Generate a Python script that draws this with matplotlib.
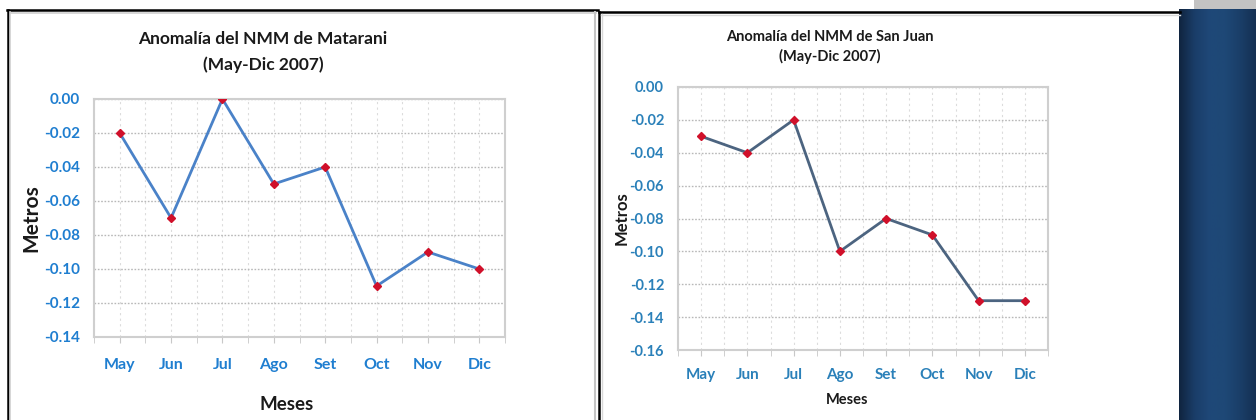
import numpy as np
import matplotlib
matplotlib.use("Agg")
import matplotlib.pyplot as plt
from matplotlib.patches import Rectangle
from matplotlib.lines import Line2D
from matplotlib.colors import LinearSegmentedColormap

# ---- data ----
meses = ["May", "Jun", "Jul", "Ago", "Set", "Oct", "Nov", "Dic"]
matarani = [-0.02, -0.07, 0.00, -0.05, -0.04, -0.11, -0.09, -0.10]
san_juan = [-0.03, -0.04, -0.02, -0.10, -0.08, -0.09, -0.13, -0.13]
yticks_matarani = [0.00, -0.02, -0.04, -0.06, -0.08, -0.10, -0.12, -0.14]
yticks_san_juan = [0.00, -0.02, -0.04, -0.06, -0.08, -0.10, -0.12, -0.14, -0.16]

W, H = 1256, 420
fig = plt.figure(figsize=(W / 100, H / 100), dpi=100)
fig.patch.set_facecolor("white")

FONT = ["Lato", "DejaVu Sans"]


def fx(px):
    return px / W


def fy(py):
    return 1 - py / H


def panel(rect, values, yticks, ymin, title, line_color, tick_color,
          title_size, tick_size, ylab_size, xlab_size, lw, ylab_x, xlab_x,
          xlab_y, title_y, title_x, tick_weight, xpad, title_ls, ms):
    ax = fig.add_axes(rect)
    x = np.arange(len(meses))
    ax.plot(x, values, color=line_color, lw=lw, zorder=3,
            solid_joinstyle="round")
    ax.plot(x, values, ls="none", marker="D", ms=ms, color="#d0102a",
            mec="#d0102a", zorder=4)
    ax.set_xlim(-0.5, len(meses) - 0.5)
    ax.set_ylim(ymin, 0.0)
    ax.set_yticks(yticks)
    ax.set_yticklabels([f"{v:.2f}" if v != 0 else "0.00" for v in yticks],
                       color=tick_color, fontsize=tick_size,
                       fontweight=tick_weight, family=FONT)
    ax.set_xticks(x)
    ax.set_xticklabels(meses, color=tick_color, fontsize=tick_size + 0.5,
                       fontweight=tick_weight, family=FONT)
    ax.set_xticks(np.arange(-0.5, len(meses), 1.0), minor=True)
    ax.tick_params(axis="y", length=0, pad=10)
    ax.tick_params(axis="x", which="major", length=4, color="#c8c8c8",
                   pad=xpad, direction="out")
    ax.tick_params(axis="x", which="minor", length=4, color="#c8c8c8",
                   direction="out")
    ax.grid(axis="y", color="#b8b8b8", ls=(0, (1.2, 1.2)), lw=1.0)
    ax.grid(axis="x", which="both", color="#dcdcdc", ls=(0, (2, 3)), lw=0.8)
    for s in ax.spines.values():
        s.set_color("#cfcfcf")
        s.set_linewidth(1.5)
    ax.set_axisbelow(True)
    fig.text(fx(title_x), fy(title_y), title, ha="center", va="center",
             fontsize=title_size, fontweight="bold", family=FONT,
             color="#1a1a1a", linespacing=title_ls)
    fig.text(fx(ylab_x), (rect[1] + rect[3] / 2), "Metros", rotation=90,
             ha="center", va="center", fontsize=ylab_size, fontweight="bold",
             family=FONT, color="#1a1a1a")
    fig.text(fx(xlab_x), fy(xlab_y), "Meses", ha="center",
             va="center", fontsize=xlab_size, fontweight="bold", family=FONT,
             color="#1a1a1a")
    return ax


# left panel: Matarani
panel([fx(94), fy(337), fx(505) - fx(94), fy(99) - fy(337)],
      matarani, yticks_matarani, -0.14,
      "Anomalía del NMM de Matarani\n(May-Dic 2007)",
      "#4a82c8", "#1f7ed0", 12.5, 11, 15, 13.5, 2.0, 31, 287, 405, 52, 263,
      "bold", 11, 1.75, 3.8)

# right panel: San Juan
panel([fx(678), fy(350), fx(1048) - fx(678), fy(87) - fy(350)],
      san_juan, yticks_san_juan, -0.16,
      "Anomalía del NMM de San Juan\n(May-Dic 2007)",
      "#4c6480", "#2a80b9", 10.5, 10.5, 12, 10.5, 2.0, 622, 847, 400, 47,
      830, "bold", 9, 1.4, 3.6)

# panel frames
def hline(x0, x1, y, color, lw):
    fig.add_artist(Line2D([fx(x0), fx(x1)], [fy(y), fy(y)], color=color,
                          lw=lw, transform=fig.transFigure))


def vline(x, y0, y1, color, lw):
    fig.add_artist(Line2D([fx(x), fx(x)], [fy(y0), fy(y1)], color=color,
                          lw=lw, transform=fig.transFigure))


hline(7, 598, 10, "black", 1.8)
hline(9, 596, 12.5, "#cfcfcf", 1.2)
vline(7.5, 10, 420, "black", 1.8)
vline(10, 12, 420, "#cfcfcf", 1.2)
vline(595, 12, 420, "#c4c4c4", 1.5)
vline(599, 12, 420, "black", 1.8)
hline(599, 1180, 12, "black", 1.8)
hline(601, 1180, 14.5, "#d8d8d8", 1.0)
vline(601.5, 14, 420, "#d8d8d8", 1.0)

# decorative column on the right
fig.add_artist(Rectangle((fx(1194), fy(9)), fx(W) - fx(1194), 1 - fy(9),
                         transform=fig.transFigure, color="#c3c3c3", lw=0))
cax = fig.add_axes([fx(1179), 0, fx(W) - fx(1179), fy(9)])
grad_cmap = LinearSegmentedColormap.from_list(
    "col", ["#10243f", "#1a3d68", "#1f4878", "#1e4876", "#1a3e68", "#142f52"])
cax.imshow(np.linspace(0, 1, 256)[None, :], aspect="auto", cmap=grad_cmap,
           extent=[0, 1, 0, 1])
cax.set_axis_off()

fig.savefig("out.png", dpi=100, facecolor="white")
